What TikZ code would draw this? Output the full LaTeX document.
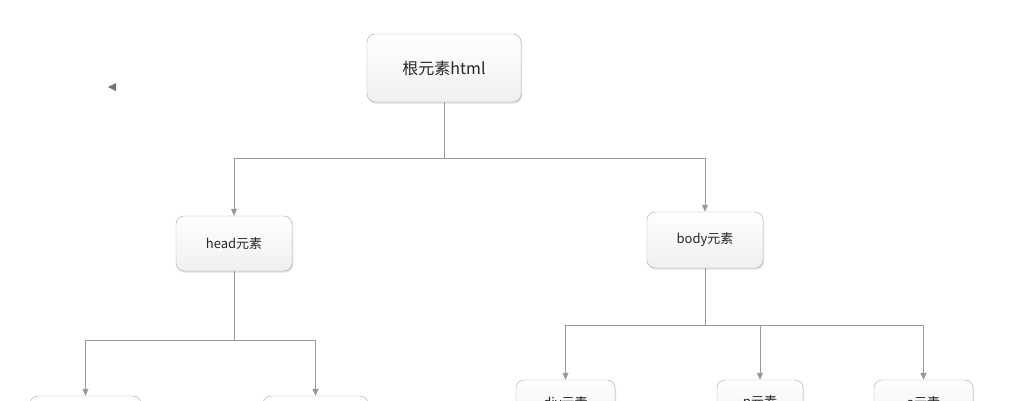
\documentclass[tikz,border=0pt]{standalone}
\usepackage{fontspec}
\setmainfont{Noto Sans CJK SC}
\usetikzlibrary{arrows.meta,shadows}
\begin{document}
\begin{tikzpicture}[x=1pt,y=-1pt,
  box/.style={draw=gray!70,rounded corners=8pt,top color=white,bottom color=gray!12,
    drop shadow={shadow xshift=1pt,shadow yshift=-1.5pt,opacity=0.25},font=\fontsize{13}{15}\selectfont,text=black!85},
  conn/.style={draw=gray!80,line width=0.8pt,-{Triangle[length=7pt,width=6pt]}},
  ln/.style={draw=gray!80,line width=0.8pt}]
\useasboundingbox (0,0) rectangle (1035,400);
\begin{scope}
\clip (0,0) rectangle (1035,400);
\node[box,minimum width=154pt,minimum height=68pt,font=\fontsize{16}{18}\selectfont] (root) at (444,68) {根元素html};
\node[box,minimum width=116pt,minimum height=55pt] (head) at (234,243.5) {head元素};
\node[box,minimum width=116pt,minimum height=56pt] (body) at (705,240) {body元素};
\node[box,minimum width=111pt,minimum height=50pt] (h1) at (85.5,421) {title元素};
\node[box,minimum width=105pt,minimum height=50pt] (h2) at (315.5,421) {meta元素};
\node[box,minimum width=99pt,minimum height=46pt] (b1) at (565.5,403) {div元素};
\node[box,minimum width=86pt,minimum height=46pt] (b2) at (760,403) {p元素};
\node[box,minimum width=99pt,minimum height=46pt] (b3) at (923.5,403) {a元素};
\coordinate (r0) at (444,158);
\draw[ln] (root.south) -- (r0);
\draw[conn] (r0) -| (head.north);
\draw[conn] (r0) -| (body.north);
\coordinate (hj) at (234,340);
\draw[ln] (head.south) -- (hj);
\draw[conn] (hj) -| (h1.north);
\draw[conn] (hj) -| (h2.north);
\coordinate (bj) at (705,325);
\draw[ln] (body.south) -- (bj);
\draw[conn] (bj) -| (b1.north);
\draw[conn] (bj) -| (b2.north);
\draw[conn] (bj) -| (b3.north);
\end{scope}
\fill[gray!90!black] (108,87) -- (116,83) -- (116,91) -- cycle;
\end{tikzpicture}
\end{document}
